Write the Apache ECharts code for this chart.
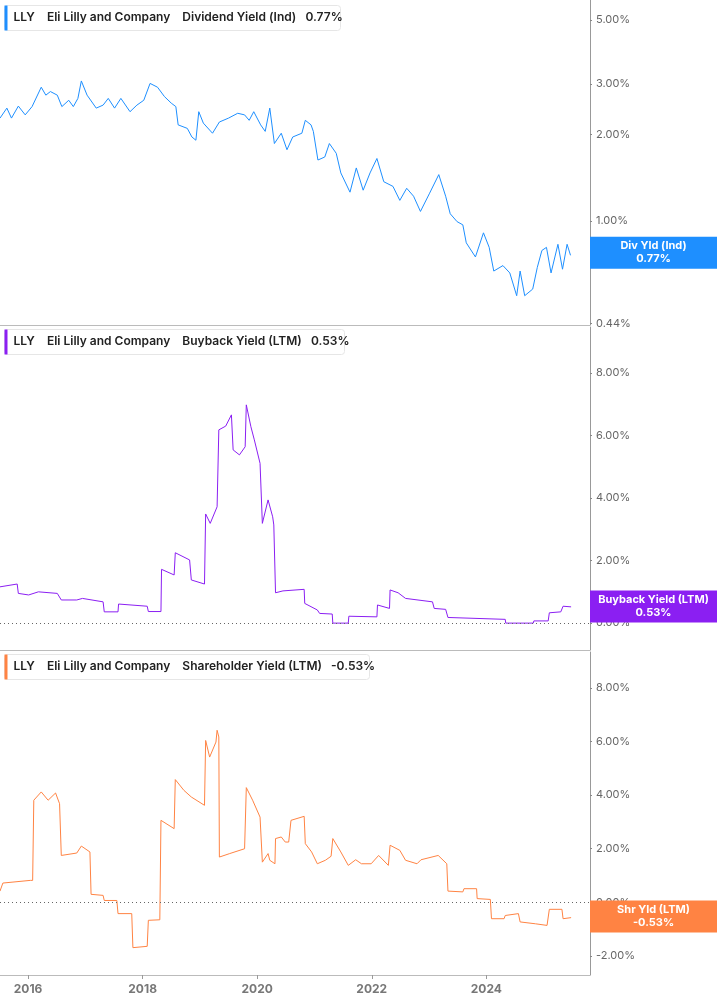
<!DOCTYPE html>
<html>
<head>
<meta charset="utf-8">
<title>LLY yields</title>
<script src="https://cdn.jsdelivr.net/npm/echarts@6/dist/echarts.min.js"></script>
<style>html,body{margin:0;padding:0;background:#fff}</style>
</head>
<body>
<div id="main" style="width:717px;height:1005px;"></div>
<script type="text/javascript">
// x = decimal year, values in percent
var yearTicks = [2016, 2018, 2020, 2022, 2024];

var divDates = [2015.51,2015.63,2015.71,2015.83,2015.95,2016.07,2016.23,2016.31,2016.39,2016.51,2016.59,2016.71,2016.79,2016.87,2016.93,2017.03,2017.19,2017.31,2017.40,2017.51,2017.62,2017.78,2017.90,2018.02,2018.13,2018.26,2018.38,2018.50,2018.58,2018.62,2018.78,2018.86,2018.93,2018.98,2019.06,2019.22,2019.34,2019.50,2019.66,2019.78,2019.86,2019.94,2020.06,2020.14,2020.22,2020.30,2020.42,2020.52,2020.62,2020.78,2020.84,2020.94,2020.98,2021.06,2021.18,2021.26,2021.38,2021.46,2021.62,2021.73,2021.85,2021.97,2022.09,2022.21,2022.37,2022.49,2022.61,2022.73,2022.85,2023.01,2023.17,2023.29,2023.37,2023.49,2023.59,2023.65,2023.81,2023.95,2024.05,2024.13,2024.29,2024.41,2024.53,2024.59,2024.67,2024.81,2024.89,2024.97,2025.05,2025.13,2025.25,2025.33,2025.41,2025.47];
var divYield = [2.28,2.47,2.28,2.51,2.34,2.50,2.92,2.74,2.82,2.74,2.50,2.63,2.50,2.67,3.07,2.74,2.47,2.53,2.67,2.47,2.67,2.40,2.53,2.63,3.01,2.92,2.71,2.57,2.50,2.16,2.10,1.96,1.91,2.40,2.19,2.02,2.21,2.28,2.37,2.34,2.24,2.40,2.16,2.05,2.47,1.86,2.02,1.77,1.96,2.02,2.24,2.16,2.05,1.63,1.67,1.86,1.72,1.47,1.26,1.53,1.28,1.47,1.65,1.37,1.32,1.18,1.30,1.22,1.08,1.25,1.45,1.22,1.06,0.995,0.97,0.84,0.75,0.91,0.81,0.67,0.70,0.66,0.55,0.67,0.55,0.58,0.69,0.79,0.81,0.66,0.83,0.68,0.83,0.76];

var bbDates = [2015.51,2015.81,2015.83,2016.01,2016.18,2016.51,2016.58,2016.85,2016.95,2017.31,2017.33,2017.57,2017.58,2018.08,2018.10,2018.32,2018.33,2018.55,2018.57,2018.82,2018.85,2019.08,2019.10,2019.18,2019.30,2019.33,2019.45,2019.55,2019.58,2019.69,2019.79,2019.81,2019.89,2019.95,2020.05,2020.09,2020.19,2020.27,2020.29,2020.32,2020.45,2020.82,2020.83,2021.05,2021.09,2021.31,2021.32,2021.59,2021.60,2022.09,2022.10,2022.31,2022.32,2022.46,2022.59,2023.06,2023.09,2023.29,2023.33,2024.33,2024.34,2024.82,2024.83,2025.08,2025.10,2025.30,2025.34,2025.48];
var bbYield = [1.16,1.25,0.95,0.9,1.0,0.95,0.74,0.74,0.79,0.68,0.36,0.36,0.61,0.54,0.37,0.37,1.72,1.54,2.25,2.02,1.38,1.25,3.49,3.19,3.72,6.18,6.3,6.66,5.54,5.38,5.64,6.98,6.28,5.86,5.11,3.19,3.94,3.4,3.14,0.97,1.03,1.08,0.63,0.42,0.31,0.29,0,0,0.22,0.2,0.58,0.47,1.06,0.97,0.79,0.68,0.47,0.44,0.18,0.12,0,0,0.07,0.07,0.33,0.36,0.54,0.52];

var shDates = [2015.51,2015.56,2016.04,2016.08,2016.10,2016.23,2016.35,2016.48,2016.55,2016.58,2016.85,2016.93,2017.08,2017.10,2017.31,2017.33,2017.55,2017.57,2017.81,2017.83,2018.08,2018.10,2018.30,2018.32,2018.55,2018.57,2018.72,2018.85,2019.08,2019.10,2019.17,2019.28,2019.30,2019.33,2019.34,2019.52,2019.78,2019.81,2019.92,2020.05,2020.09,2020.19,2020.22,2020.31,2020.32,2020.42,2020.49,2020.55,2020.59,2020.82,2020.84,2020.95,2021.05,2021.19,2021.29,2021.32,2021.46,2021.59,2021.72,2021.82,2021.99,2022.12,2022.29,2022.32,2022.49,2022.59,2022.79,2022.86,2023.16,2023.31,2023.33,2023.59,2023.61,2023.83,2023.84,2024.07,2024.09,2024.31,2024.33,2024.56,2024.59,2024.86,2025.06,2025.10,2025.32,2025.34,2025.48];
var shYield = [0.42,0.72,0.82,0.82,3.81,4.12,3.81,4.08,3.68,1.75,1.84,2.1,1.88,0.3,0.26,0.07,0.07,-0.42,-0.42,-1.69,-1.64,-0.67,-0.65,3.06,2.75,4.58,4.18,3.93,3.62,6.04,5.42,5.98,6.42,6.17,1.69,1.82,2.0,4.28,3.81,3.18,1.5,1.82,1.57,1.44,2.38,2.44,2.25,2.25,3.06,3.21,2.19,1.88,1.44,1.57,1.72,2.38,1.88,1.38,1.59,1.44,1.44,1.75,1.38,2.13,1.94,1.57,1.44,1.59,1.75,1.44,0.42,0.39,0.51,0.51,0.14,0.11,-0.61,-0.61,-0.49,-0.42,-0.73,-0.8,-0.86,-0.26,-0.26,-0.61,-0.57];

var divTicks = [0.44, 1, 2, 3, 5];
var bbTicks = [0, 2, 4, 6, 8];
var shTicks = [-2, 0, 2, 4, 6, 8];

var lastDiv = 0.77, lastBb = 0.53, lastSh = -0.53;
var C_DIV = '#1e8fff', C_BB = '#8b1ff2', C_SH = '#ff8343';

function zip(a, b, f) { return a.map(function (d, i) { return [d, f ? f(b[i]) : b[i]]; }); }
function pct(v) { return v.toFixed(2) + '%'; }
var log10 = Math.log10;

var FONT = 'Inter, "Noto Sans", sans-serif';
var grids = [
  { left: 0, right: 127, top: 0, height: 325 },
  { left: 0, right: 127, top: 327, height: 323 },
  { left: 0, right: 127, top: 652, height: 323 }
];

function xAx(i, labels) {
  return {
    type: 'value', gridIndex: i, min: 2015.51, max: 2025.81,
    splitLine: { show: false },
    axisLine: { show: true, onZero: false, lineStyle: { color: '#bbb', width: 1 } },
    axisTick: { show: labels, customValues: yearTicks, length: 4, lineStyle: { color: '#999' } },
    axisLabel: { show: labels, customValues: yearTicks, color: '#777', fontWeight: 'bold', fontSize: 12, fontFamily: FONT, margin: 8,
      formatter: function (v) { return String(Math.round(v)); } }
  };
}
function yAx(i, min, max, ticks, fmt) {
  return {
    type: 'value', gridIndex: i, position: 'right', min: min, max: max,
    splitLine: { show: false },
    axisLine: { show: true, onZero: false, lineStyle: { color: '#999' } },
    axisTick: { show: true, customValues: ticks, length: 2, lineStyle: { color: '#888' } },
    axisLabel: { customValues: ticks, color: '#666', fontSize: 11, fontFamily: FONT, margin: 6, formatter: fmt }
  };
}
function badge(val, name, txt, color) {
  return {
    silent: true, symbol: 'none',
    lineStyle: { width: 0, color: color },
    data: [{ yAxis: val }],
    label: {
      show: true, position: 'end', distance: 0,
      formatter: '{c|' + name + '}\n{c|' + txt + '}',
      backgroundColor: color, padding: [3, 0, 3, 0],
      rich: { c: { width: 127, align: 'center', color: '#fff', fontWeight: 'bold', fontSize: 11, lineHeight: 13, fontFamily: FONT } }
    }
  };
}
function zeroLine() {
  return { silent: true, symbol: 'none', lineStyle: { color: '#666', type: [1, 3], width: 1 }, label: { show: false }, data: [{ yAxis: 0 }] };
}
function lineSeries(i, data, color, ml) {
  return { type: 'line', xAxisIndex: i, yAxisIndex: i, data: data, showSymbol: false, symbol: 'none',
    lineStyle: { color: color, width: 1 }, itemStyle: { color: color }, markLine: ml };
}

function legendBox(top, w, color, text) {
  return {
    type: 'group', left: 4, top: top, children: [
      { type: 'rect', shape: { x: 0, y: 0, width: w, height: 25, r: 3 }, style: { fill: '#fff', stroke: '#e6e6e6', lineWidth: 1 } },
      { type: 'rect', shape: { x: 0, y: 0, width: 3, height: 25 }, style: { fill: color } },
      { type: 'text', x: 9, y: 6, style: { text: text, fill: '#222', font: '600 12px ' + FONT } }
    ]
  };
}

var chart = echarts.init(document.getElementById('main'));
chart.setOption({
  animation: false,
  grid: grids,
  xAxis: [xAx(0, false), xAx(1, false), xAx(2, true)],
  yAxis: [
    yAx(0, log10(0.435), log10(5.87), divTicks.map(log10), function (v) { return pct(Math.pow(10, v)); }),
    yAx(1, -0.86, 9.47, bbTicks, pct),
    yAx(2, -2.71, 9.34, shTicks, pct)
  ],
  series: [
    lineSeries(0, zip(divDates, divYield, log10), C_DIV, badge(log10(lastDiv), 'Div Yld (Ind)', pct(lastDiv), C_DIV)),
    lineSeries(1, zip(bbDates, bbYield), C_BB, badge(lastBb, 'Buyback Yield (LTM)', pct(lastBb), C_BB)),
    lineSeries(2, zip(shDates, shYield), C_SH, badge(lastSh, 'Shr Yld (LTM)', pct(lastSh), C_SH)),
    { type: 'line', xAxisIndex: 1, yAxisIndex: 1, data: [], markLine: zeroLine() },
    { type: 'line', xAxisIndex: 2, yAxisIndex: 2, data: [], markLine: zeroLine() }
  ],
  graphic: [
    legendBox(5, 336, C_DIV, 'LLY    Eli Lilly and Company    Dividend Yield (Ind)   0.77%'),
    legendBox(329, 340, C_BB, 'LLY    Eli Lilly and Company    Buyback Yield (LTM)   0.53%'),
    legendBox(654, 365, C_SH, 'LLY    Eli Lilly and Company    Shareholder Yield (LTM)   -0.53%')
  ]
});
</script>
</body>
</html>
